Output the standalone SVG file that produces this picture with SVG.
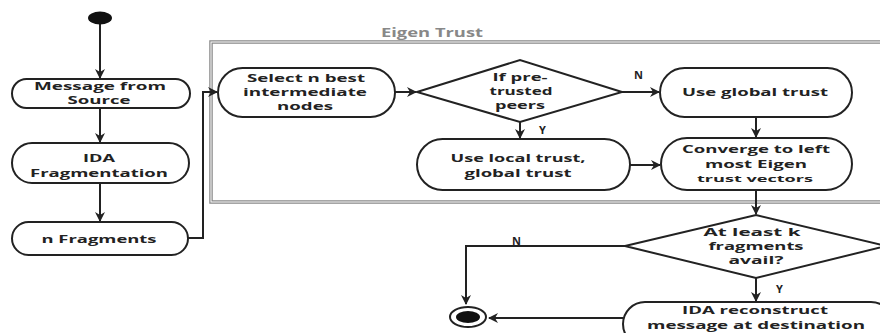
<svg xmlns="http://www.w3.org/2000/svg" width="880" height="333" viewBox="0 0 880 333">
<defs>
<marker id="ah" viewBox="0 0 10 10" refX="9" refY="5" markerWidth="5" markerHeight="5" orient="auto" markerUnits="strokeWidth">
<path d="M0,0 L10,5 L0,10 L3,5 z" fill="#222"/>
</marker>
<style>
.nd{fill:#fff;stroke:#222;stroke-width:2}
.t{font-family:"Open Sans","DejaVu Sans",sans-serif;font-weight:bold;font-size:11px;fill:#222;text-anchor:middle}
.s{font-size:9px}
.c{fill:none;stroke:#222;stroke-width:2}
.lb{font-family:"Open Sans","DejaVu Sans",sans-serif;font-weight:bold;font-size:11px;fill:#222}
</style>
</defs>
<rect width="880" height="333" fill="#fff"/>
<g id="frame">
<rect x="211" y="42" width="700" height="160" fill="none" stroke="#888" stroke-width="3.5"/>
<rect x="211" y="42" width="700" height="160" fill="none" stroke="#fff" stroke-width="1"/>
<text x="432" y="37" font-family="'Open Sans','DejaVu Sans',sans-serif" font-size="12" font-weight="bold" fill="#888" text-anchor="middle" textLength="102" lengthAdjust="spacingAndGlyphs">Eigen Trust</text>
</g>
<g id="connectors">
<path class="c" d="M100,24 V78" marker-end="url(#ah)"/>
<path class="c" d="M100,108 V142" marker-end="url(#ah)"/>
<path class="c" d="M100,183 V221" marker-end="url(#ah)"/>
<path class="c" d="M188,238 H203 V92 H217" marker-end="url(#ah)"/>
<path class="c" d="M395,92 H416" marker-end="url(#ah)"/>
<path class="c" d="M622,92 H659" marker-end="url(#ah)"/>
<path class="c" d="M520,122 V138" marker-end="url(#ah)"/>
<path class="c" d="M630,165 H660" marker-end="url(#ah)"/>
<path class="c" d="M756,117 V137" marker-end="url(#ah)"/>
<path class="c" d="M756,190 V214" marker-end="url(#ah)"/>
<path class="c" d="M625,246 H466 V304" marker-end="url(#ah)"/>
<path class="c" d="M756,278 V301" marker-end="url(#ah)"/>
<path class="c" d="M623,318 H489" marker-end="url(#ah)"/>
<text class="lb" x="634" y="79">N</text>
<text class="lb" x="539" y="134">Y</text>
<text class="lb" x="512" y="245">N</text>
<text class="lb" x="776" y="293">Y</text>
</g>
<g id="start"><ellipse cx="100" cy="18" rx="12" ry="6.5" fill="#111"/></g>
<g id="n_message">
<rect class="nd" x="12" y="79" width="178" height="29" rx="14.5"/>
<text class="t" x="100" y="90" textLength="132" lengthAdjust="spacingAndGlyphs">Message from</text>
<text class="t" x="99" y="104" textLength="63" lengthAdjust="spacingAndGlyphs">Source</text>
</g>
<g id="n_ida_frag">
<rect class="nd" x="12" y="143" width="177" height="40" rx="20"/>
<text class="t" x="99" y="162" textLength="32" lengthAdjust="spacingAndGlyphs">IDA</text>
<text class="t" x="99" y="177" textLength="138" lengthAdjust="spacingAndGlyphs">Fragmentation</text>
</g>
<g id="n_fragments">
<rect class="nd" x="12" y="222" width="176" height="33" rx="16.5"/>
<text class="t" x="99" y="243" textLength="115" lengthAdjust="spacingAndGlyphs">n Fragments</text>
</g>
<g id="n_select">
<rect class="nd" x="218" y="68" width="177" height="49" rx="24.5"/>
<text class="t" x="306" y="82" textLength="118" lengthAdjust="spacingAndGlyphs">Select n best</text>
<text class="t" x="305" y="96" textLength="124" lengthAdjust="spacingAndGlyphs">intermediate</text>
<text class="t" x="305" y="110" textLength="56" lengthAdjust="spacingAndGlyphs">nodes</text>
</g>
<g id="d_pretrusted">
<polygon class="nd" points="417,92 520,60 622,92 520,122"/>
<text class="t" x="520" y="81" textLength="55" lengthAdjust="spacingAndGlyphs">If pre-</text>
<text class="t" x="521" y="95" textLength="63" lengthAdjust="spacingAndGlyphs">trusted</text>
<text class="t" x="520" y="109" textLength="50" lengthAdjust="spacingAndGlyphs">peers</text>
</g>
<g id="n_global">
<rect class="nd" x="660" y="68" width="192" height="49" rx="24.5"/>
<text class="t" x="755" y="96" textLength="146" lengthAdjust="spacingAndGlyphs">Use global trust</text>
</g>
<g id="n_local">
<rect class="nd" x="417" y="139" width="213" height="51" rx="25.5"/>
<text class="t" x="518" y="162" textLength="135" lengthAdjust="spacingAndGlyphs">Use local trust,</text>
<text class="t" x="518" y="177" textLength="107" lengthAdjust="spacingAndGlyphs">global trust</text>
</g>
<g id="n_converge">
<rect class="nd" x="661" y="138" width="191" height="52" rx="26"/>
<text class="t" x="756" y="153" textLength="148" lengthAdjust="spacingAndGlyphs">Converge to left</text>
<text class="t" x="756" y="168" textLength="102" lengthAdjust="spacingAndGlyphs">most Eigen</text>
<text class="t s" x="755" y="182" textLength="116" lengthAdjust="spacingAndGlyphs">trust vectors</text>
</g>
<g id="d_kfrag">
<polygon class="nd" points="625,246 756,215 886,246 756,278"/>
<text class="t" x="752" y="236" textLength="97" lengthAdjust="spacingAndGlyphs">At least k</text>
<text class="t" x="756" y="250" textLength="95" lengthAdjust="spacingAndGlyphs">fragments</text>
<text class="t" x="756" y="264" textLength="55" lengthAdjust="spacingAndGlyphs">avail?</text>
</g>
<g id="n_reconstruct">
<rect class="nd" x="623" y="302" width="270" height="44" rx="22"/>
<text class="t" x="755" y="314" textLength="146" lengthAdjust="spacingAndGlyphs">IDA reconstruct</text>
<text class="t" x="756" y="329" textLength="218" lengthAdjust="spacingAndGlyphs">message at destination</text>
</g>
<g id="end">
<ellipse cx="468" cy="317" rx="18" ry="10" fill="#fff" stroke="#222" stroke-width="2"/>
<ellipse cx="468" cy="317" rx="12" ry="6" fill="#111"/>
</g>
</svg>
